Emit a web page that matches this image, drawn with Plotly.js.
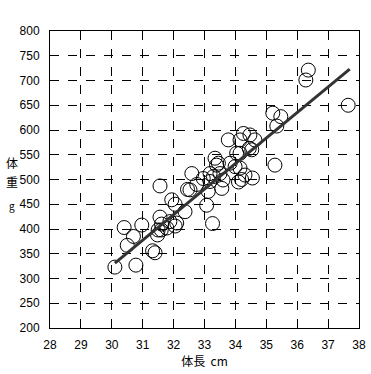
<!DOCTYPE html>
<html>
<head>
<meta charset="utf-8">
<script src="https://cdn.plot.ly/plotly-3.0.1.min.js"></script>
<style>html,body{margin:0;padding:0;background:#fff;}#chart{width:371px;height:374px;}</style>
</head>
<body>
<div id="chart"></div>
<script>
// Body length (cm)
var bodyLength = [30.10, 30.78, 30.40, 30.97, 30.50, 30.70, 31.32, 31.40, 31.56, 31.61,
  31.50, 31.48, 31.94, 31.78, 31.88, 32.05, 32.10, 32.05, 32.37, 31.56,
  32.59, 32.75, 32.53, 33.12, 33.56, 33.07, 33.26, 33.34, 33.39, 33.18,
  33.50, 33.83, 34.15, 34.31, 34.55, 34.15, 33.60, 32.96, 33.77, 34.15,
  34.26, 34.47, 34.45, 34.04, 34.20, 33.18, 33.29, 33.45, 33.99, 36.36,
  36.28, 37.65, 35.21, 35.47, 35.34, 35.28, 34.63, 34.53, 32.45, 31.60, 34.10];
// Body weight (g)
var bodyWeight = [323, 327, 403, 408, 367, 385, 356, 352, 424, 410,
  398, 388, 459, 402, 415, 406, 412, 450, 435, 487,
  512, 490, 479, 476, 482, 448, 411, 543, 529, 512,
  512, 533, 523, 509, 503, 553, 499, 502, 580, 580,
  593, 590, 563, 553, 500, 496, 506, 533, 526, 721,
  701, 650, 634, 627, 608, 529, 580, 560, 480, 398, 495];
// Fitted line endpoints
var fitX = [30.1, 37.7];
var fitY = [331, 723];
var xTicks = [28, 29, 30, 31, 32, 33, 34, 35, 36, 37, 38];
var yTicks = [200, 250, 300, 350, 400, 450, 500, 550, 600, 650, 700, 750, 800];

var fontFam = '"Liberation Sans", "DejaVu Sans", sans-serif';
var cjkFam = '"Noto Sans CJK JP", sans-serif';

var traces = [
  {x: bodyLength, y: bodyWeight, type: 'scatter', mode: 'markers',
   marker: {symbol: 'circle-open', size: 14, color: '#000', line: {width: 1, color: '#000'}},
   hoverinfo: 'none', showlegend: false},
  {x: fitX, y: fitY, type: 'scatter', mode: 'lines',
   line: {color: '#333', width: 3}, hoverinfo: 'none', showlegend: false}
];

var axisCommon = {
  showline: true, mirror: true, linecolor: '#000', linewidth: 1,
  showgrid: true, gridcolor: '#000', gridwidth: 1, griddash: 'dash',
  zeroline: false, ticks: '', tickfont: {family: fontFam, size: 12, color: '#000'}
};

var layout = {
  width: 371, height: 374,
  margin: {l: 50, r: 12, t: 31, b: 46, pad: 0},
  paper_bgcolor: '#fff', plot_bgcolor: '#fff',
  showlegend: false,
  xaxis: Object.assign({}, axisCommon, {
    range: [28, 38], tickvals: xTicks, ticktext: xTicks.map(String), ticklabelstandoff: 6,
    title: {text: '体長  cm', font: {family: cjkFam, size: 12, color: '#000'}, standoff: 6}
  }),
  yaxis: Object.assign({}, axisCommon, {
    range: [200, 800], tickvals: yTicks, ticktext: yTicks.map(String), ticklabelstandoff: 7
  }),
  annotations: [
    {text: '体', xref: 'paper', yref: 'paper', x: -0.123, y: 0.556, xanchor: 'center', yanchor: 'middle', showarrow: false, font: {family: cjkFam, size: 12, color: '#000'}},
    {text: '重', xref: 'paper', yref: 'paper', x: -0.123, y: 0.492, xanchor: 'center', yanchor: 'middle', showarrow: false, font: {family: cjkFam, size: 12, color: '#000'}},
    {text: 'g', xref: 'paper', yref: 'paper', x: -0.123, y: 0.411, xanchor: 'center', yanchor: 'middle', showarrow: false, font: {family: cjkFam, size: 10, color: '#000'}}
  ]
};

Plotly.newPlot('chart', traces, layout, {staticPlot: true, displayModeBar: false});
</script>
</body>
</html>
